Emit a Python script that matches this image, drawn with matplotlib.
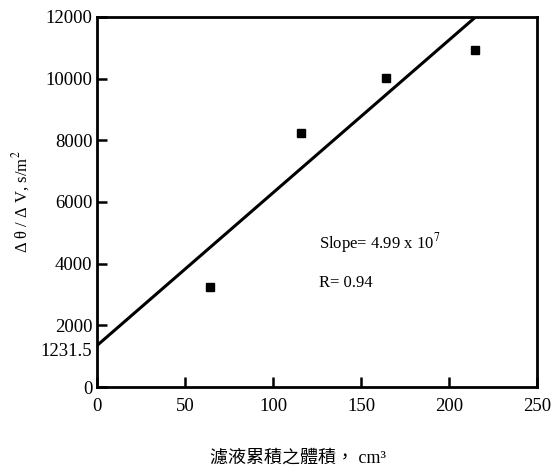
import numpy as np
import matplotlib.pyplot as plt

# data
volume = [64, 116, 164, 214.5]          # cm^3
dt_dv = [3250, 8250, 10030, 10940]      # s/m^2
fit_intercept = 1350
fit_slope = 49.5
x_ticks = [0, 50, 100, 150, 200, 250]
y_ticks = [0, 2000, 4000, 6000, 8000, 10000, 12000]

plt.rcParams['font.family'] = ['Liberation Serif', 'Noto Sans CJK TC', 'DejaVu Sans']
plt.rcParams['mathtext.fontset'] = 'stix'

fig = plt.figure(figsize=(5.52, 4.68), dpi=100)
ax = fig.add_axes([0.176, 0.173, 0.797, 0.791])

# fitted line
xs = np.array([0, 250])
ax.plot(xs, fit_intercept + fit_slope * xs, color='black', lw=2.2)

# measured points
ax.plot(volume, dt_dv, 's', color='black', ms=6)

ax.set_xlim(0, 250)
ax.set_ylim(0, 12000)
ax.set_xticks(x_ticks)
ax.set_yticks(y_ticks)
ax.set_yticks([1231.5], labels=['1231.5'], minor=True)
ax.tick_params(axis='y', which='minor', length=0, labelsize=13.5)
ax.tick_params(which='major', direction='in', length=7, width=1.8, labelsize=13.5)
ax.tick_params(axis='x', which='major', pad=8)
for s in ax.spines.values():
    s.set_linewidth(2)

ax.text(126, 4500, 'Slope= 4.99 x 10$^7$', fontsize=12)
ax.text(126, 3250, 'R= 0.94', fontsize=12)

ax.set_ylabel('Δ θ / Δ V, s/m$^2$', fontsize=12, labelpad=6)
fig.text(0.54, 0.012, '濾液累積之體積， cm³', ha='center', fontsize=13)

fig.savefig('out.png', dpi=100)
